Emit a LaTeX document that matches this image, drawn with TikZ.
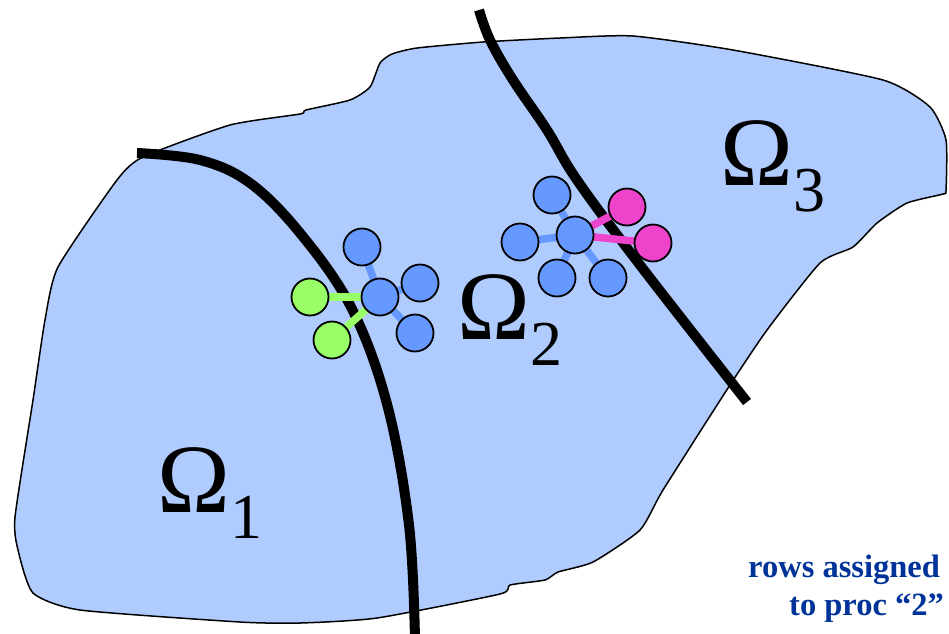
\documentclass[tikz,border=0pt]{standalone}
\usepackage{fontspec}
\setmainfont{Liberation Serif}
\usepackage{tikz}
\usetikzlibrary{backgrounds}
\definecolor{domain}{RGB}{176,204,255}
\definecolor{atomblue}{RGB}{102,153,255}
\definecolor{atomgreen}{RGB}{153,255,102}
\definecolor{atompink}{RGB}{238,68,204}
\definecolor{rowblue}{RGB}{0,51,153}
\tikzset{%
  % atoms
  atom/.style={circle, draw, line width=1.8pt, minimum size=37pt, inner sep=0pt},
  own/.style={atom, fill=atomblue},
  nbrone/.style={atom, fill=atomgreen},
  nbrthree/.style={atom, fill=atompink},
  % edge styles
  bond/.style={line width=7.5pt},
  cut/.style={line width=10pt},
  region/.style={draw, line width=1.5pt, fill=domain, line join=round},
  % text
  omega/.style={inner sep=0pt, anchor=base west, font=\fontsize{98}{100}\selectfont},
  note/.style={inner sep=0pt, anchor=base west, text=rowblue,
    font=\fontsize{32.5}{34}\selectfont\bfseries},
}
\newcommand{\omegasub}[1]{Ω\raisebox{-26pt}{\fontsize{64}{64}\selectfont #1}}

\begin{document}
\begin{tikzpicture}[x=1pt, y=-1pt]
  \useasboundingbox (0,0) rectangle (949,633);

  % rows near the cut Omega_1 / Omega_2
  \node[own] (m1c) at (380,297) {};
  \node[own] (m1t) at (362,247) {};
  \node[own] (m1r) at (420,283) {};
  \node[own] (m1br) at (415,333) {};
  \node[nbrone] (m1gl) at (310,297) {};
  \node[nbrone] (m1gb) at (332,340) {};

  % rows near the cut Omega_2 / Omega_3
  \node[own] (m2c) at (575,235) {};
  \node[own] (m2t) at (552,195) {};
  \node[own] (m2l) at (520,242) {};
  \node[own] (m2b) at (557,278) {};
  \node[own] (m2br) at (608,278) {};
  \node[nbrthree] (m2pt) at (627,207) {};
  \node[nbrthree] (m2pr) at (653,243) {};

  \begin{pgfonlayer}{background}
    \draw[region] plot[smooth cycle, tension=0.35] coordinates {
      (143,157) (230,125) (300,114) (306,110) (350,100) (370,87) (380,63)
      (392,54) (417,48) (483,42) (560,38) (633,36) (733,50) (883,80)
      (930,107) (946,140) (946,190) (943,194) (907,203) (877,223) (853,247)
      (820,263) (767,330) (728,388) (663,490) (640,530) (593,562) (558,572)
      (545,580) (510,585) (500,594) (377,618) (300,623) (240,622) (80,610)
      (33,593) (18,550) (15,517) (33,400) (45,320) (58,267) (117,180)};
    \draw[cut] plot[smooth, tension=0.6] coordinates {
      (137,153) (200,160) (250,183) (300,233) (351,307) (387,404)
      (409,525) (415,640)};
    \draw[cut] plot[smooth, tension=0.6] coordinates {
      (479,10) (490,40) (513,80) (547,130) (577,180) (640,265) (747,402)};

    \draw[bond, atomblue] (m1c.center) -- (m1t.center);
    \draw[bond, atomblue] (m1c.center) -- (m1r.center);
    \draw[bond, atomblue] (m1c.center) -- (m1br.center);
    \draw[bond, atomgreen] (m1c.center) -- (m1gl.center);
    \draw[bond, atomgreen] (m1c.center) -- (m1gb.center);

    \draw[bond, atomblue] (m2c.center) -- (m2t.center);
    \draw[bond, atomblue] (m2c.center) -- (m2l.center);
    \draw[bond, atomblue] (m2c.center) -- (m2b.center);
    \draw[bond, atomblue] (m2c.center) -- (m2br.center);
    \draw[bond, atompink] (m2c.center) -- (m2pt.center);
    \draw[bond, atompink] (m2c.center) -- (m2pr.center);
  \end{pgfonlayer}

  \node[omega] (om1) at (157,512) {\omegasub{1}};
  \node[omega] (om2) at (457,339) {\omegasub{2}};
  \node[omega] (om3) at (720,185) {\omegasub{3}};

  \node[note] (rows1) at (748,577) {rows assigned};
  \node[note] (rows2) at (789,615) {to proc “2”};
\end{tikzpicture}
\end{document}
